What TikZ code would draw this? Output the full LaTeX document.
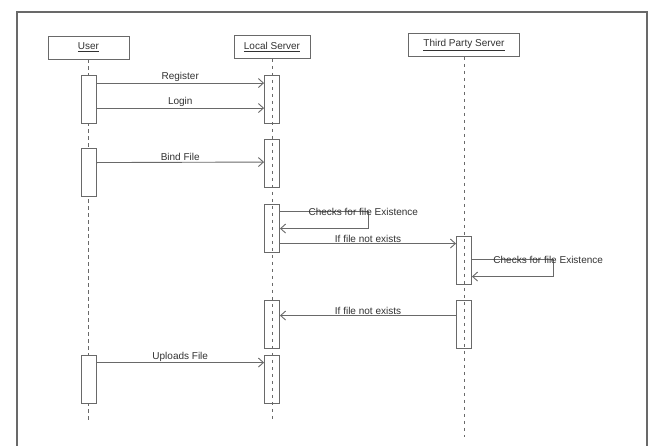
\documentclass[tikz,border=0pt]{standalone}
\usepackage{fontspec}
\setmainfont{Liberation Sans}
\usetikzlibrary{arrows.meta}

\definecolor{linec}{RGB}{105,105,105}
\definecolor{textc}{RGB}{50,50,50}

\tikzset{
  head/.style={draw=linec, line width=0.9pt, minimum height=23pt, inner sep=2pt, text=textc, font=\fontsize{10}{12}\selectfont},
  act/.style={draw=linec, line width=0.9pt, fill=white, minimum width=15pt, minimum height=48pt, inner sep=0pt},
  actd/.style={act, fill=none},
  life/.style={draw=linec, line width=0.8pt, dash pattern=on 3.5pt off 3.5pt},
  msg/.style={draw=linec, line width=0.9pt, -{Straight Barb[length=5pt,width=9pt]}},
  lbl/.style={text=textc, font=\fontsize{10}{12}\selectfont, inner sep=0pt}
}

\begin{document}
\begin{tikzpicture}[x=1pt,y=-1pt]
			\useasboundingbox[fill=white] (0,0) rectangle (651,445);
			\draw[linec, line width=1.3pt] (17,450) -- (17,12) -- (647,12) -- (647,450);
			% objects
			\node[head, minimum width=81pt] (user) at (88.5,47.5) {\underline{User}};
			\node[head, minimum width=76pt] (local) at (272,47) {\underline{Local Server}};
			\node[head, minimum width=111pt] (third) at (464,45) {\underline{Third Party Server}};
			\coordinate (userend) at (88.5,420);
			\coordinate (localend) at (272,420);
			\coordinate (thirdend) at (464,437);
			\draw[life] (user.south) -- (userend);
			\draw[life] (local.south) -- (localend);
			\draw[life] (third.south) -- (thirdend);
			% activations
			\foreach \n/\y in {ua1/99.5,ua2/172,ua3/379}
			\node[act] (\n) at (88.5,\y) {};
			\foreach \n/\y in {la1/99.5,la2/163.5,la3/228,la4/324,la5/379}
			\node[actd] (\n) at (272,\y) {};
			\foreach \n/\y in {ta1/260,ta2/324}
			\node[actd] (\n) at (464,\y) {};
			% messages
			\draw[msg] ([yshift=-8pt]ua1.north east) -- ([yshift=-8pt]la1.north west) node[lbl, midway, above=1pt] {Register};
			\draw[msg] ([yshift=-33pt]ua1.north east) -- ([yshift=-33pt]la1.north west) node[lbl, midway, above=1pt] {Login};
			\draw[msg] ([yshift=-15pt]ua2.north east) -- ([yshift=-23pt]la2.north west) node[lbl, midway, above=1pt] {Bind File};
			\draw[msg] ([yshift=-8pt]la3.north east) -- ++(88,0) node[lbl, pos=0.32, anchor=west] {Checks for file Existence} -- ++(0,17) -- ([yshift=-25pt]la3.north east);
			\draw[msg] ([yshift=-40pt]la3.north east) -- ([yshift=-8pt]ta1.north west) node[lbl, midway, above=1pt] {If file not exists};
			\draw[msg] ([yshift=-24pt]ta1.north east) -- ++(81,0) node[lbl, pos=0.26, anchor=west] {Checks for file Existence} -- ++(0,17) -- ([yshift=-41pt]ta1.north east);
			\draw[msg] ([yshift=-16pt]ta2.north west) -- ([yshift=-16pt]la4.north east) node[lbl, midway, above=1pt] {If file not exists};
			\draw[msg] ([yshift=-8pt]ua3.north east) -- ([yshift=-8pt]la5.north west) node[lbl, midway, above=1pt] {Uploads File};
\end{tikzpicture}
\end{document}
